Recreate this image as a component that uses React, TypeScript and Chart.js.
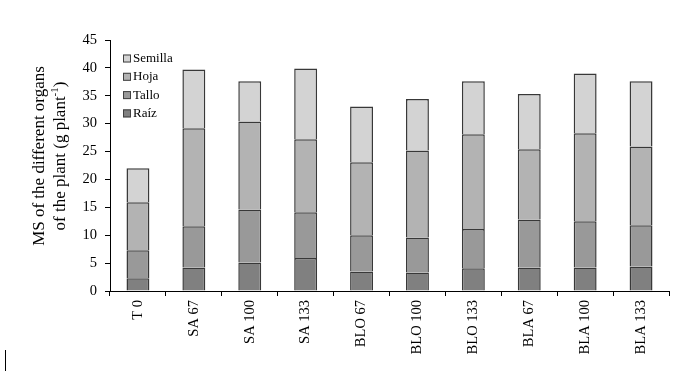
import React, { useEffect, useRef } from 'react';
import { Chart, registerables } from 'chart.js';
Chart.register(...registerables);

const categories = ['T 0', 'SA 67', 'SA 100', 'SA 133', 'BLO 67', 'BLO 100', 'BLO 133', 'BLA 67', 'BLA 100', 'BLA 133'];
const raiz = [2.3, 4.2, 5.1, 5.9, 3.5, 3.3, 4.1, 4.2, 4.2, 4.4];
const tallo = [5.0, 7.4, 9.5, 8.2, 6.5, 6.3, 7.0, 8.6, 8.3, 7.4];
const hoja = [8.6, 17.6, 15.8, 13.1, 13.1, 15.6, 17.0, 12.6, 15.8, 14.1];
const semilla = [6.1, 10.5, 7.2, 12.7, 10.0, 9.2, 9.5, 9.9, 10.7, 11.7];
const seriesNames = ['Raíz', 'Tallo', 'Hoja', 'Semilla'];
const seriesColors = ['#808080', '#999999', '#b3b3b3', '#d3d3d3'];
const yTitle1 = 'MS of the different organs';
const yTitle2a = 'of the plant (g plant';
const yTitle2sup = '-1';
const yTitle2b = ')';

const FONT = "'Liberation Serif', 'Times New Roman', serif";

const overlay = {
  id: 'overlay',
  afterDraw(chart: any) {
    const ctx = chart.ctx as CanvasRenderingContext2D;
    const area = chart.chartArea;
    ctx.save();
    ctx.fillStyle = '#000';
    ctx.translate(40, 156);
    ctx.rotate(-Math.PI / 2);
    ctx.font = `17px ${FONT}`;
    ctx.textBaseline = 'middle';
    ctx.textAlign = 'center';
    ctx.fillText(yTitle1, 0, 0);
    const wa = ctx.measureText(yTitle2a).width;
    const wb = ctx.measureText(yTitle2b).width;
    ctx.font = `11px ${FONT}`;
    const ws = ctx.measureText(yTitle2sup).width;
    const total = wa + ws + wb;
    let x = -total / 2;
    ctx.textAlign = 'left';
    ctx.font = `17px ${FONT}`;
    ctx.fillText(yTitle2a, x, 21);
    x += wa;
    ctx.font = `11px ${FONT}`;
    ctx.fillText(yTitle2sup, x, 15);
    x += ws;
    ctx.font = `17px ${FONT}`;
    ctx.fillText(yTitle2b, x, 21);
    ctx.restore();

    // legend
    ctx.save();
    ctx.font = `13px ${FONT}`;
    ctx.textBaseline = 'middle';
    ctx.textAlign = 'left';
    const order = [3, 2, 1, 0];
    order.forEach((si, i) => {
      const cy = area.top + 18.5 + i * 18.3;
      const bx = area.left + 13;
      ctx.fillStyle = seriesColors[si];
      ctx.fillRect(bx, cy - 4, 8, 8);
      ctx.strokeStyle = '#404040';
      ctx.lineWidth = 1;
      ctx.strokeRect(bx + 0.5, cy - 3.5, 7, 7);
      ctx.fillStyle = '#000';
      ctx.fillText(seriesNames[si], bx + 10, cy);
    });
    ctx.restore();
  },
};

export default function App() {
  const ref = useRef<HTMLCanvasElement>(null);
  useEffect(() => {
    const data = [raiz, tallo, hoja, semilla];
    const chart = new Chart(ref.current!, {
      type: 'bar',
      data: {
        labels: categories,
        datasets: data.map((d, i) => ({
          label: seriesNames[i],
          data: d,
          backgroundColor: seriesColors[i],
          borderColor: '#383838',
          borderWidth: 1.5,
          barPercentage: 0.41,
          categoryPercentage: 1,
        })),
      },
      options: {
        responsive: false,
        animation: false,
        layout: { padding: { left: 0, top: 40, right: 6, bottom: 0 } },
        plugins: { legend: { display: false }, tooltip: { enabled: false } },
        scales: {
          x: {
            stacked: true,
            afterFit: (s: any) => { s.height = 83; },
            grid: { drawOnChartArea: false, drawTicks: true, tickLength: 5, color: '#000', offset: true },
            border: { color: '#000', width: 1 },
            ticks: { color: '#000', font: { family: FONT, size: 14.5 }, minRotation: 90, maxRotation: 90, padding: 4, autoSkip: false },
          },
          y: {
            stacked: true,
            min: 0,
            max: 45,
            afterFit: (s: any) => { s.width = 110; },
            grid: { drawOnChartArea: false, drawTicks: true, tickLength: 5, color: '#000' },
            border: { color: '#000', width: 1 },
            ticks: { stepSize: 5, color: '#000', font: { family: FONT, size: 14.5 }, padding: 8 },
          },
        },
      },
      plugins: [overlay],
    });
    return () => chart.destroy();
  }, []);
  return (
    <div style={{ position: 'fixed', left: 0, top: 0, width: 675, height: 374, background: '#fff' }}>
      <canvas ref={ref} width={675} height={374} />
      <div style={{ position: 'absolute', left: 5, top: 350, width: 1, height: 21, background: '#000' }} />
    </div>
  );
}
